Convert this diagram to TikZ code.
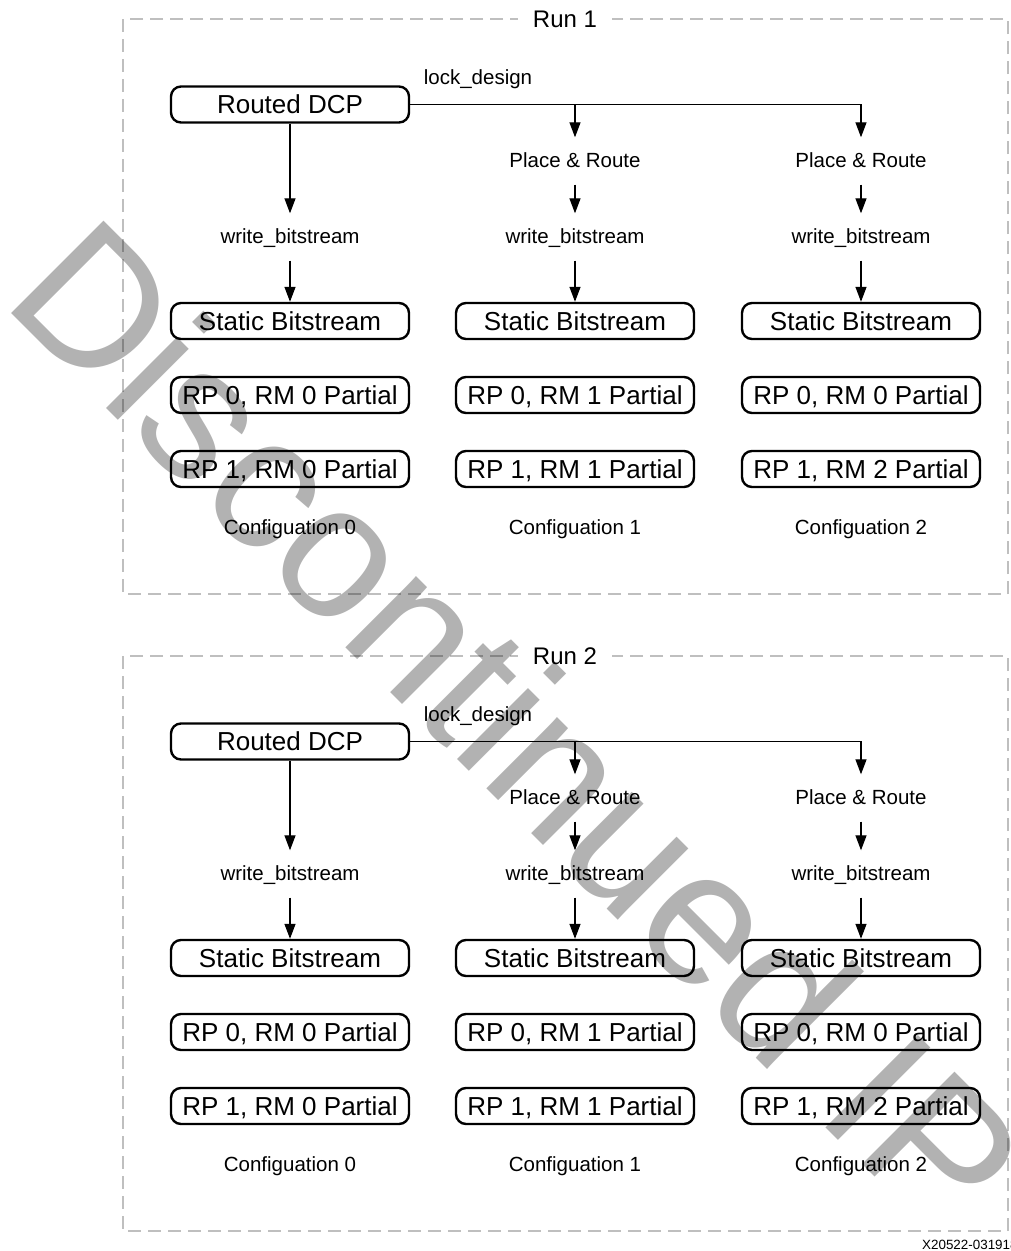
\documentclass[tikz,border=0pt]{standalone}
\usepackage{fontspec}
\setmainfont{Liberation Sans}
\usetikzlibrary{arrows.meta}
\begin{document}
\begin{tikzpicture}[x=1pt,y=-1pt,
  box/.style={draw=black, line width=2.4pt, rounded corners=10pt, minimum width=238pt, minimum height=36pt, inner sep=0pt, font=\fontsize{26}{30}\selectfont, text height=18.7pt, text depth=0pt},
  lbl/.style={inner sep=0pt, minimum height=47pt, font=\fontsize{20.5}{24}\selectfont, text height=15.2pt, text depth=2.5pt},
  arr/.style={line width=1.3pt, -{Triangle[length=15pt,width=11pt]}},
  runbox/.style={draw=black!25, line width=2.5pt, dash pattern=on 13pt off 7pt},
  runlbl/.style={fill=white, inner xsep=15pt, inner ysep=2pt, font=\fontsize{24}{28}\selectfont, text height=17.3pt, text depth=0pt},
]
\useasboundingbox (0,0) rectangle (1010,1251);
\foreach \r/\oy in {1/0,2/637}{
  \draw[runbox] (123,19+\oy) rectangle (1008,594+\oy);
  \node[runlbl] (run\r) at (565,19+\oy) {Run \r};
  \node[box] (dcp\r) at (290,104.5+\oy) {Routed DCP};
  \node[lbl] (lock\r) at (478,78+\oy) {lock\_design};
  \node[lbl] (pra\r) at (575,161+\oy) {Place \& Route};
  \node[lbl] (prb\r) at (861,161+\oy) {Place \& Route};
  \node[lbl] (wba\r) at (290,237+\oy) {write\_bitstream};
  \node[lbl] (wbb\r) at (575,237+\oy) {write\_bitstream};
  \node[lbl] (wbc\r) at (861,237+\oy) {write\_bitstream};
  \node[box] (sa\r) at (290,321+\oy) {Static Bitstream};
  \node[box] (sb\r) at (575,321+\oy) {Static Bitstream};
  \node[box] (sc\r) at (861,321+\oy) {Static Bitstream};
  \node[box] (pa\r) at (290,395+\oy) {RP 0, RM 0 Partial};
  \node[box] (pb\r) at (575,395+\oy) {RP 0, RM 1 Partial};
  \node[box] (pc\r) at (861,395+\oy) {RP 0, RM 0 Partial};
  \node[box] (qa\r) at (290,469+\oy) {RP 1, RM 0 Partial};
  \node[box] (qb\r) at (575,469+\oy) {RP 1, RM 1 Partial};
  \node[box] (qc\r) at (861,469+\oy) {RP 1, RM 2 Partial};
  \node[lbl] (ca\r) at (290,528+\oy) {Configuation 0};
  \node[lbl] (cb\r) at (575,528+\oy) {Configuation 1};
  \node[lbl] (cc\r) at (861,528+\oy) {Configuation 2};
  \draw[arr] (dcp\r.south) -- (wba\r.north);
  \draw[arr] (dcp\r.east) -| (prb\r.north);
  \draw[arr] (pra\r.north |- dcp\r.east) -- (pra\r.north);
  \draw[arr] (pra\r.south) -- (wbb\r.north);
  \draw[arr] (prb\r.south) -- (wbc\r.north);
  \draw[arr] (wba\r.south) -- (sa\r.north);
  \draw[arr] (wbb\r.south) -- (sb\r.north);
  \draw[arr] (wbc\r.south) -- (sc\r.north);
}
\node[anchor=base west, inner sep=0pt, font=\fontsize{13.4}{15}\selectfont] (code) at (922,1249) {X20522-031918};
\node[rotate=-45, anchor=base west, inner sep=0pt, text=black, text opacity=0.3, font=\fontsize{190}{200}\selectfont] (wm) at (0,302) {Discontinued IP};
\end{tikzpicture}
\end{document}
